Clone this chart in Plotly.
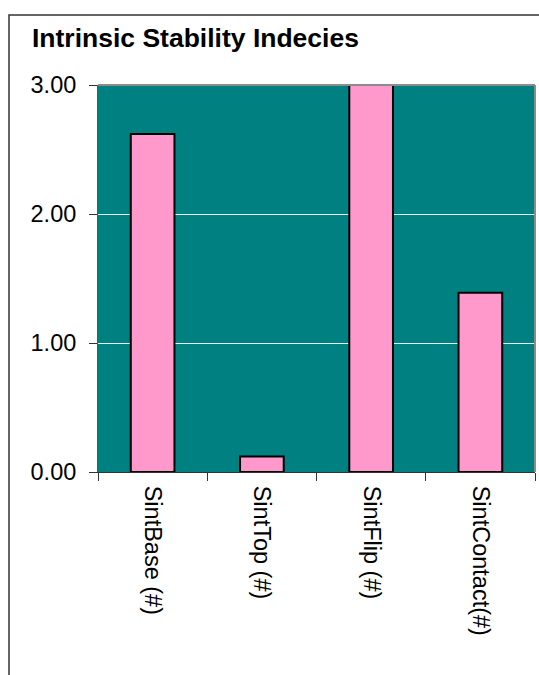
import plotly.graph_objects as go

categories = ["SintBase (#)", "SintTop (#)", "SintFlip (#)", "SintContact(#)"]
values = [2.62, 0.12, 3.05, 1.39]
y_ticks = [0, 1, 2, 3]
y_tick_labels = ["0.00", "1.00", "2.00", "3.00"]
title_text = "Intrinsic Stability Indecies"

W, H = 539, 675
L, R, T, B = 98, 4, 85, 203
pw, ph = W - L - R, H - T - B

def px_x(x):
    return (x - L) / pw

def px_y(y):
    return 1 - (y - T) / ph

fig = go.Figure(go.Bar(
    x=categories, y=values, width=0.4,
    marker=dict(color="#FF99CC", line=dict(color="black", width=2)),
))

fig.update_layout(
    width=W, height=H,
    margin=dict(l=L, r=R, t=T, b=B, pad=0),
    paper_bgcolor="white", plot_bgcolor="#008080",
    font=dict(family="Liberation Sans, Arial, sans-serif", color="black"),
    showlegend=False,
    title=dict(text=title_text, x=32 / W, xanchor="left", xref="container",
               y=1 - 38 / H, yanchor="middle", yref="container",
               font=dict(size=26.5, weight="bold", family="Liberation Sans, Arial, sans-serif", color="black")),
    bargap=0.6,
)
fig.update_xaxes(
    type="category", tickangle=90, tickson="boundaries",
    ticks="outside", ticklen=8, tickcolor="#333", tickwidth=1,
    showline=True, linecolor="#333", linewidth=1,
    showgrid=False, tickfont=dict(size=23.5), range=[-0.5, 3.5],
    ticklabelstandoff=8,
)
fig.update_yaxes(
    range=[0, 3], tickvals=y_ticks, ticktext=y_tick_labels,
    ticks="outside", ticklen=8, tickcolor="#333", tickwidth=1,
    showline=True, linecolor="#555", linewidth=1,
    showgrid=True, gridcolor="#e6ffff", gridwidth=1,
    tickfont=dict(size=23.5), ticklabelstandoff=8, zeroline=False,
)
# plot-area border (top and right, gray)
fig.add_shape(type="line", xref="paper", yref="paper", x0=0, x1=1, y0=1, y1=1,
              line=dict(color="#8c8c8c", width=2))
fig.add_shape(type="line", xref="paper", yref="paper", x0=1, x1=1, y0=0, y1=1,
              line=dict(color="#8c8c8c", width=2))
# outer chart frame
fig.add_shape(type="rect", xref="paper", yref="paper",
              x0=px_x(9), x1=px_x(560), y0=px_y(700), y1=px_y(15),
              line=dict(color="#333", width=1.5), layer="above")

fig.write_html("out.html")
